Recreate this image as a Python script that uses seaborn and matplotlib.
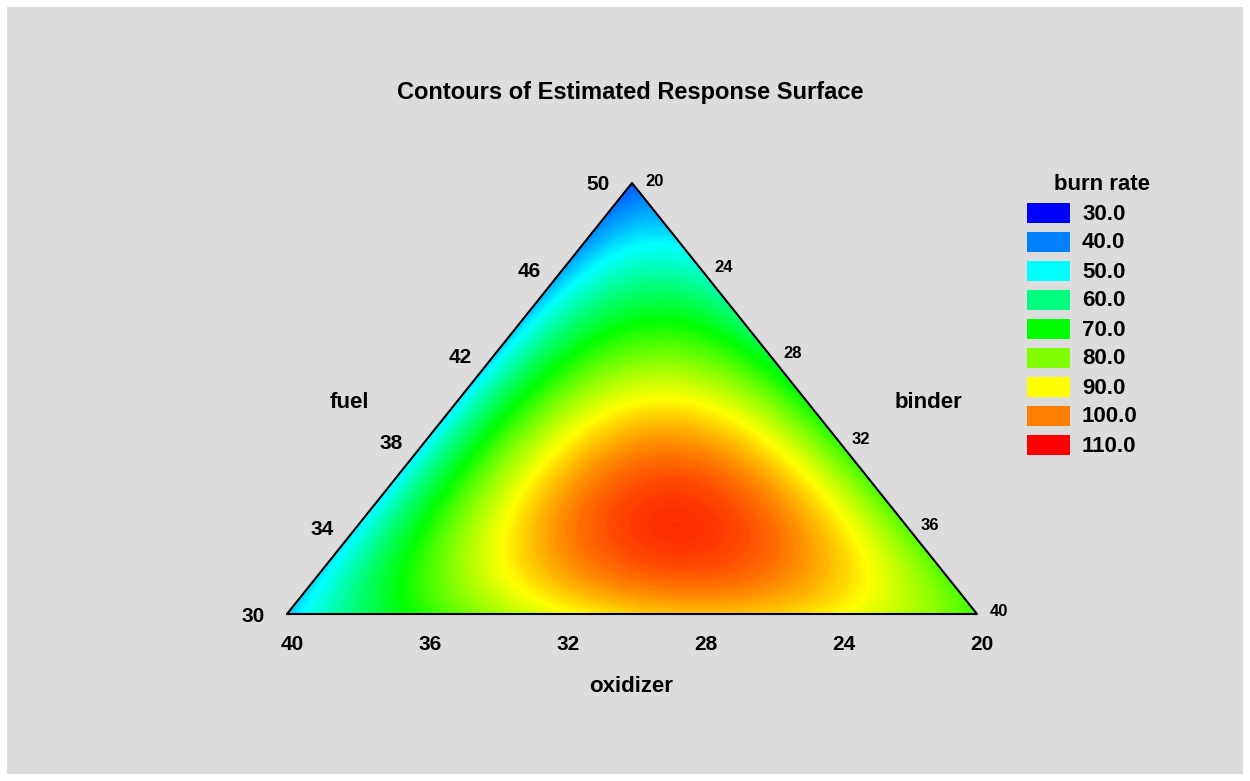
import matplotlib
matplotlib.use("Agg")
import matplotlib.pyplot as plt
import matplotlib.tri as mtri
from matplotlib.colors import LinearSegmentedColormap
from matplotlib.patches import Rectangle
import seaborn as sns
import numpy as np

sns.set_style("white")
plt.rcParams["font.family"] = ["Liberation Sans", "DejaVu Sans"]
plt.rcParams["text.color"] = "black"

# component ranges (sum of the three = 90)
fuel_ticks = [30, 34, 38, 42, 46, 50]
oxid_ticks = [40, 36, 32, 28, 24, 20]
binder_ticks = [20, 24, 28, 32, 36, 40]

# fitted special-cubic model in pseudo-components (f, o, b)
lin_coef = [37.0, 46.0, 75.0]          # f, o, b
quad_coef = [26.0, 56.0, 130.0]        # fo, fb, ob
cubic_coef = 690.0                     # fob

legend_levels = [30.0, 40.0, 50.0, 60.0, 70.0, 80.0, 90.0, 100.0, 110.0]
legend_colors = ["#0000ff", "#0080ff", "#00ffff", "#00ff80", "#00ff00",
                 "#80ff00", "#ffff00", "#ff8000", "#ff0000"]

# triangle corners in figure pixels
LEFT = (287, 614)
TOP = (632, 183)
RIGHT = (977, 614)


def to_xy(f, o, b):
    x = LEFT[0] * o + TOP[0] * f + RIGHT[0] * b
    y = LEFT[1] * o + TOP[1] * f + RIGHT[1] * b
    return x, y


def response(f, o, b):
    return (lin_coef[0] * f + lin_coef[1] * o + lin_coef[2] * b
            + quad_coef[0] * f * o + quad_coef[1] * f * b + quad_coef[2] * o * b
            + cubic_coef * f * o * b)


fig = plt.figure(figsize=(12.5, 7.81), dpi=100, facecolor="white")
ax = fig.add_axes([0, 0, 1, 1])
ax.set_xlim(0, 1250)
ax.set_ylim(781, 0)
ax.axis("off")
ax.add_patch(Rectangle((7, 7), 1236, 767, facecolor="#dcdcdc", edgecolor="none", zorder=0))

# grid of mixtures
n = 120
ff, bb = [], []
for i in range(n + 1):
    for j in range(n + 1 - i):
        ff.append(i / n)
        bb.append(j / n)
ff = np.array(ff)
bb = np.array(bb)
oo = 1 - ff - bb
xs, ys = to_xy(ff, oo, bb)
tri = mtri.Triangulation(xs, ys)
z = response(ff, oo, bb)

cmap = LinearSegmentedColormap.from_list("burn", legend_colors)
ax.tricontourf(tri, z, levels=np.linspace(min(z.min(), 30), max(z.max(), 110), 200),
               cmap=cmap, vmin=30, vmax=110, zorder=1)
ax.plot([LEFT[0], TOP[0], RIGHT[0], LEFT[0]], [LEFT[1], TOP[1], RIGHT[1], LEFT[1]],
        color="black", lw=1.5, zorder=3)

tk = dict(fontsize=15, fontweight="bold", color="black", zorder=4)
# fuel ticks on left edge
for v in fuel_ticks:
    f = (v - 30) / 20
    x, y = to_xy(f, 1 - f, 0)
    ax.text(x - 22, y + 2, str(v), ha="right", va="center", **tk)
# binder ticks on right edge
for v in binder_ticks:
    b = (v - 20) / 20
    x, y = to_xy(1 - b, 0, b)
    ax.text(x + 13, y - 2, str(v), ha="left", va="center", fontsize=12,
            fontweight="bold", zorder=4)
# oxidizer ticks on bottom edge
for v in oxid_ticks:
    o = (v - 20) / 20
    x, y = to_xy(0, o, 1 - o)
    ax.text(x + 5, y + 31, str(v), ha="center", va="center", **tk)

lab = dict(fontsize=16, fontweight="bold", ha="center", va="center")
ax.text(349, 403, "fuel", **lab)
ax.text(928, 403, "binder", **lab)
ax.text(631, 686, "oxidizer", **lab)
ax.text(630, 92, "Contours of Estimated Response Surface", fontsize=17,
        fontweight="bold", ha="center", va="center")

# legend
ax.text(1102, 185, "burn rate", **lab)
for k, (lv, c) in enumerate(zip(legend_levels, legend_colors)):
    y = 213 + k * 29
    ax.add_patch(Rectangle((1027, y - 10), 43, 20, facecolor=c, edgecolor="none"))
    ax.text(1082, y + 1, f"{lv:.1f}", ha="left", va="center", fontsize=16, fontweight="bold")

fig.savefig("out.png", dpi=100, facecolor="white")
